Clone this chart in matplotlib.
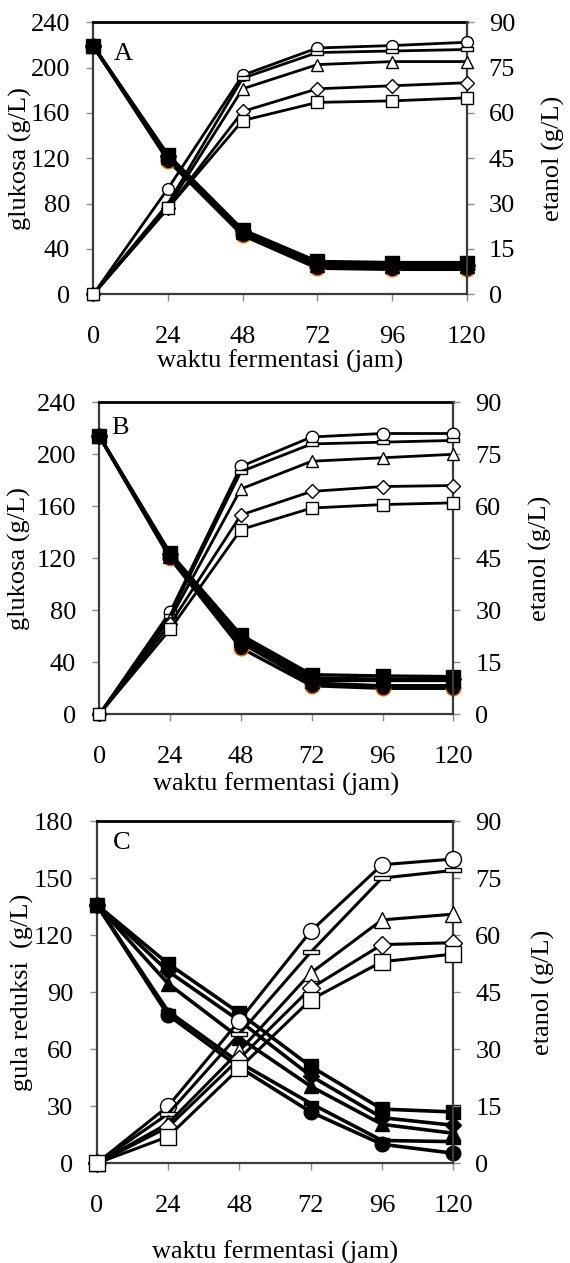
import matplotlib
matplotlib.use("Agg")
import matplotlib.pyplot as plt
from matplotlib.path import Path

plt.rcParams['font.family'] = ['Liberation Serif', 'DejaVu Serif']

# ---------------- data ----------------
time_h = [0, 24, 48, 72, 96, 120]
x_ticks = [0, 24, 48, 72, 96, 120]

# Panel A: glucose (g/L, left axis)
gA_square = [219, 123, 57, 29, 28, 28]
gA_diamond = [219, 122, 56, 27, 26, 26]
gA_triangle = [219, 121, 55, 26, 25, 25]
gA_dash = [219, 120, 54, 25, 24, 24]
gA_circle = [219, 118, 52, 23, 22, 22]
# Panel A: ethanol (g/L, right axis)
eA_circle = [0, 35, 72.5, 81.5, 82.3, 83.4]
eA_dash = [0, 30, 71.5, 80, 80.5, 81]
eA_triangle = [0, 29, 68, 76, 77, 77]
eA_diamond = [0, 28.5, 60.5, 68, 69, 70]
eA_square = [0, 28.5, 57.5, 63.5, 64, 65]

# Panel B
gB_square = [214, 124, 61, 30.5, 29.5, 29]
gB_diamond = [214, 123, 59, 28, 27, 27]
gB_triangle = [214, 122, 57, 26, 26, 26]
gB_dash = [214, 121, 55, 24, 22, 22]
gB_circle = [214, 120, 51, 22, 20, 20]
eB_circle = [0, 29.5, 71.5, 80, 81, 81]
eB_dash = [0, 28.5, 70, 78, 78.5, 79]
eB_triangle = [0, 27.5, 65, 73, 74, 75]
eB_diamond = [0, 26, 57.5, 64.3, 65.7, 66]
eB_square = [0, 24.5, 53.3, 59.5, 60.5, 61]

# Panel C: reducing sugar (left), ethanol (right)
gC_square = [136, 105, 79, 51, 28.5, 27]
gC_diamond = [136, 101, 75, 46, 24, 20]
gC_triangle = [136, 94.5, 66, 40.5, 20.5, 15.8]
gC_dash = [136, 80, 53, 31.5, 12, 11.4]
gC_circle = [136, 78, 50.5, 27, 10, 5.3]
eC_circle = [0, 15, 37.5, 61, 78.5, 80]
eC_dash = [0, 13, 34, 55.5, 75, 77]
eC_triangle = [0, 10.5, 29.5, 50, 64, 65.5]
eC_diamond = [0, 9.5, 27.5, 46, 57.5, 58]
eC_square = [0, 7, 25, 43, 53, 55]

left_ticks_AB = [0, 40, 80, 120, 160, 200, 240]
left_ticks_C = [0, 30, 60, 90, 120, 150, 180]
right_ticks = [0, 15, 30, 45, 60, 75, 90]

# ---------------- style ----------------
DASH = Path([(-1, -0.28), (1, -0.28), (1, 0.28), (-1, 0.28), (-1, -0.28)],
            [Path.MOVETO, Path.LINETO, Path.LINETO, Path.LINETO, Path.CLOSEPOLY])
ORANGE = '#E46C0A'
SPINE = '#3c3c3c'
TICKC = '#8c8c8c'
FS = 19

fig = plt.figure(figsize=(5.70, 12.63), dpi=100)

panels = [
    dict(rect=[93.3, 22.3, 466.7, 294.3], letter='A', lp=(0.079, 0.883),
         gl=[gA_circle, gA_dash, gA_triangle, gA_diamond, gA_square],
         et=[eA_circle, eA_dash, eA_triangle, eA_diamond, eA_square],
         lticks=left_ticks_AB, ylab='glukosa (g/L)', orange=True,
         ylx=-0.196, yrx=1.232, xly=-0.248, lw=2.0, ms_open=8.5, ms_fill=10.5),
    dict(rect=[99.3, 402.3, 453.3, 714.3], letter='B', lp=(0.059, 0.917),
         gl=[gB_circle, gB_dash, gB_triangle, gB_diamond, gB_square],
         et=[eB_circle, eB_dash, eB_triangle, eB_diamond, eB_square],
         lticks=left_ticks_AB, ylab='glukosa (g/L)', orange=True,
         ylx=-0.225, yrx=1.245, xly=-0.225, lw=2.0, ms_open=9, ms_fill=10.5),
    dict(rect=[96.7, 821, 453.3, 1163.3], letter='C', lp=(0.07, 0.935),
         gl=[gC_circle, gC_dash, gC_triangle, gC_diamond, gC_square],
         et=[eC_circle, eC_dash, eC_triangle, eC_diamond, eC_square],
         lticks=left_ticks_C, ylab='gula reduksi  (g/L)', orange=False,
         ylx=-0.209, yrx=1.252, xly=-0.259, lw=2.2, ms_open=11.5, ms_fill=10.5),
]

W, H = 570.0, 1263.0
markers = ['o', DASH, '^', 'D', 's']
size_scale = [1.0, 1.0, 1.0, 0.8, 0.95]

for p in panels:
    x0, y0, x1, y1 = p['rect']
    ax = fig.add_axes([x0 / W, 1 - y1 / H, (x1 - x0) / W, (y1 - y0) / H])
    ax2 = ax.twinx()
    ax.set_zorder(2)
    ax2.set_zorder(3)
    ax.patch.set_visible(False)
    ax2.patch.set_visible(False)

    # glucose / reducing sugar (filled markers)
    for i, (vals, mk) in enumerate(zip(p['gl'], markers)):
        mec = ORANGE if (p['orange'] and mk == 'o') else 'black'
        ms = p['ms_fill'] * size_scale[i]
        ax.plot(time_h, vals, color='black', lw=p['lw'] + 0.4, marker=mk,
                ms=ms, mfc='black', mec=mec, mew=1.0, clip_on=False, zorder=3 + i)

    # ethanol (open markers)
    for i, (vals, mk) in enumerate(zip(p['et'], markers)):
        ms = p['ms_open'] * size_scale[i]
        ax2.plot(time_h, vals, color='black', lw=p['lw'], marker=mk, ms=ms,
                 mfc='white', mec='black', mew=1.0, clip_on=False, zorder=3 + i)

    ax.set_xlim(0, 120)
    ax.set_ylim(0, p['lticks'][-1])
    ax2.set_ylim(0, 90)
    ax.set_xticks(x_ticks)
    ax.set_yticks(p['lticks'])
    ax2.set_yticks(right_ticks)

    for a in (ax, ax2):
        for s in a.spines.values():
            s.set_visible(False)
    ax.spines['left'].set_visible(True)
    ax.spines['bottom'].set_visible(True)
    ax.spines['top'].set_visible(True)
    ax2.spines['right'].set_visible(True)
    for s in (ax.spines['left'], ax.spines['bottom'], ax2.spines['right']):
        s.set_color(SPINE)
        s.set_linewidth(1.6)
    ax.spines['top'].set_color('black')
    ax.spines['top'].set_linewidth(2.0)

    ax.tick_params(axis='x', which='both', direction='out', length=4.8,
                   width=1, color=TICKC, labelsize=FS, pad=18, top=False)
    ax.tick_params(axis='y', direction='out', length=4.8, width=1,
                   color=TICKC, labelsize=FS, pad=12, right=False)
    ax2.tick_params(axis='y', direction='out', length=4.8, width=1,
                    color=TICKC, labelsize=FS, pad=11)

    ax.set_ylabel(p['ylab'], fontsize=FS, va='center')
    ax.yaxis.set_label_coords(p['ylx'], 0.5)
    ax2.set_ylabel('etanol (g/L)', fontsize=FS, va='center')
    ax2.yaxis.set_label_coords(p['yrx'], 0.5)
    ax.set_xlabel('waktu fermentasi (jam)', fontsize=FS, va='center')
    ax.xaxis.set_label_coords(0.5, p['xly'])

    ax.text(p['lp'][0], p['lp'][1], p['letter'], transform=ax.transAxes,
            fontsize=FS, ha='center', va='center', zorder=10)

fig.savefig('out.png', dpi=100)
